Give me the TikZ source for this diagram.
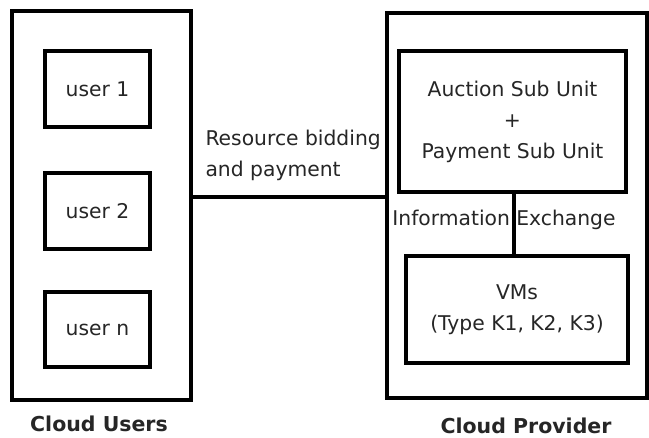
\documentclass[tikz,border=0pt]{standalone}
\usepackage{fontspec}
\setmainfont{DejaVu Sans}
\begin{document}
\begin{tikzpicture}[x=1pt,y=-1pt,
  box/.style={draw=black, line width=3.3pt, rectangle, inner sep=0pt},
  lbl/.style={font=\fontsize{20.3}{31}\selectfont, text=black!85, align=center},
  title/.style={font=\fontsize{20.5}{24}\selectfont\bfseries, text=black!85},
  wire/.style={draw=black, line width=3.3pt}]
  \useasboundingbox (0,0) rectangle (649,438);
  \fill[white] (0,0) rectangle (649,438);

  % users side
  \node[box, minimum width=179pt, minimum height=389pt] (users) at (101.5,205.5) {};
  \node[box, lbl, minimum width=105pt, minimum height=76pt] (u1) at (97.5,89) {user 1};
  \node[box, lbl, minimum width=105pt, minimum height=76pt] (u2) at (97.5,211) {user 2};
  \node[box, lbl, minimum width=105pt, minimum height=75pt] (un) at (97.5,329.5) {user n};
  \node[title] (usersT) at (99,424) {Cloud Users};

  % provider side
  \node[box, minimum width=260pt, minimum height=385pt] (prov) at (517,205.5) {};
  \node[box, lbl, minimum width=227pt, minimum height=141pt] (auction) at (512.5,121.5)
    {Auction Sub Unit\\+\\Payment Sub Unit};
  \node[box, lbl, minimum width=222pt, minimum height=107pt] (vms) at (517,309.5)
    {VMs\\(Type K1, K2, K3)};
  \node[title] (provT) at (526,426) {Cloud Provider};

  % links
  \draw[wire] ([yshift=8.5pt]users.east) -- ([yshift=8.5pt]prov.west);
  \node[lbl, align=left, anchor=west] (bid) at (202,155) {Resource bidding\\and payment};
  \draw[wire] ([xshift=1.5pt]auction.south) -- ([xshift=1.5pt]auction.south |- vms.north);
  \node[lbl] (info) at (504,220) {Information Exchange};
\end{tikzpicture}
\end{document}
